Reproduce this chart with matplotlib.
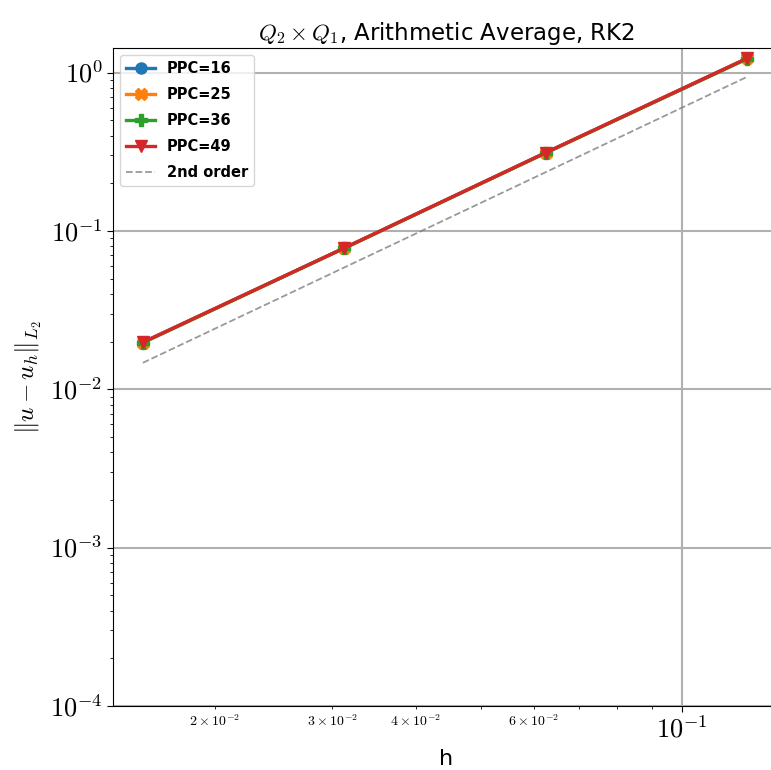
import numpy as np
import matplotlib
matplotlib.use("Agg")
import matplotlib.pyplot as plt
from matplotlib.ticker import FuncFormatter

plt.rcParams['mathtext.fontset'] = 'cm'

# mesh sizes and L2 errors
h = [1 / 64, 1 / 32, 1 / 16, 1 / 8]
err_ppc16 = [0.0198, 0.0780, 0.312, 1.23]
err_ppc25 = [0.0197, 0.0779, 0.311, 1.23]
err_ppc36 = [0.0197, 0.0778, 0.311, 1.22]
err_ppc49 = [0.0198, 0.0780, 0.312, 1.23]
ref_2nd = [0.0147, 0.0588, 0.235, 0.94]

series = [
    ('PPC=16', err_ppc16, 'tab:blue', 'o'),
    ('PPC=25', err_ppc25, 'tab:orange', 'X'),
    ('PPC=36', err_ppc36, 'tab:green', 'P'),
    ('PPC=49', err_ppc49, 'tab:red', 'v'),
]


def major_fmt(v, pos):
    e = int(np.round(np.log10(v)))
    return r'$10^{%d}$' % e


def minor_fmt(v, pos):
    e = int(np.floor(np.log10(v) + 1e-9))
    m = int(np.round(v / 10 ** e))
    if m in (2, 3, 4, 6):
        return r'$%d\times10^{%d}$' % (m, e)
    return ''


fig = plt.figure(figsize=(7.71, 7.70), dpi=100)
ax = fig.add_axes([113 / 771, 1 - 706 / 770, (780 - 113) / 771, (706 - 48) / 770])

for label, err, color, marker in series:
    ax.loglog(h, err, color=color, marker=marker, lw=2.4, ms=8, label=label)
ax.loglog(h, ref_2nd, '--', color='gray', alpha=0.8, lw=1.3, label='2nd order')

ax.set_xlim(0.0141, 0.140)
ax.set_ylim(1e-4, 1.43)
ax.spines['right'].set_visible(False)
ax.xaxis.set_major_formatter(FuncFormatter(major_fmt))
ax.yaxis.set_major_formatter(FuncFormatter(major_fmt))
ax.xaxis.set_minor_formatter(FuncFormatter(minor_fmt))
ax.yaxis.set_minor_formatter(FuncFormatter(lambda v, p: ''))
ax.grid(True, which='major', color='#b0b0b0', lw=1.5)
ax.tick_params(axis='both', which='major', labelsize=19, length=4)
ax.tick_params(axis='x', which='minor', labelsize=10)
ax.set_xlabel('h', fontsize=16)
ax.set_ylabel(r'$\Vert u - u_h \Vert_{L_2}$', fontsize=18)
ax.set_title(r'$Q_2 \times Q_1$, Arithmetic Average, RK2', fontsize=16.5)
ax.legend(loc='upper left', prop={'weight': 'bold', 'size': 10.5}, labelspacing=0.75)

fig.savefig('out.png', dpi=100)
